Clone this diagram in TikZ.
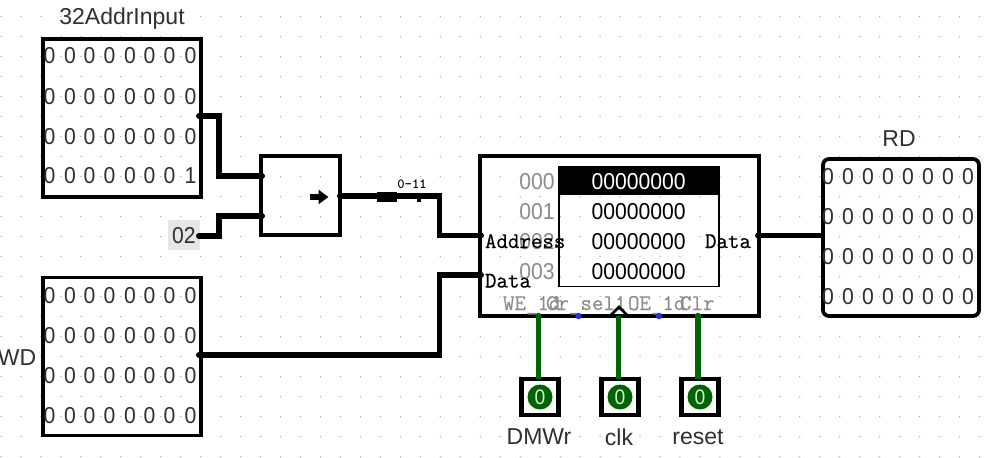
\documentclass[tikz,border=0pt]{standalone}
\usepackage{fontspec}
\usetikzlibrary{arrows.meta}
\setmainfont{Liberation Sans}
\newfontfamily\narrowdig[FakeStretch=0.92]{Liberation Sans}
\newfontfamily\portfont[FakeBold=0.35]{Latin Modern Mono}
\definecolor{pingreen}{HTML}{006400}
\definecolor{portblue}{HTML}{2A2AF0}
\definecolor{griddot}{HTML}{B0B0B0}
\definecolor{lblgrey}{HTML}{8C8C8C}
\definecolor{constbg}{HTML}{E6E6E6}
\definecolor{digitcol}{HTML}{303030}
\tikzset{
  box/.style={draw=black,line width=3.8pt,inner sep=0pt,outer sep=0pt},
  bit/.style={inner sep=0pt,outer sep=0pt,text=digitcol,font=\narrowdig\fontsize{23}{23}\selectfont},
  cell/.style={inner sep=0pt,outer sep=0pt,font=\narrowdig\fontsize{23}{23}\selectfont},
  addrlbl/.style={inner sep=0pt,outer sep=0pt,text=lblgrey,font=\narrowdig\fontsize{23}{23}\selectfont},
  portlbl/.style={inner sep=0pt,outer sep=0pt,anchor=base west,font=\portfont\fontsize{22.3}{22}\selectfont},
  ctllbl/.style={portlbl,text=lblgrey},
  title/.style={inner sep=0pt,outer sep=0pt,text=digitcol,font=\fontsize{23}{23}\selectfont},
  wire/.style={draw=black,line width=5.2pt,line join=miter},
  gwire/.style={draw=pingreen,line width=5.2pt},
  pinbox/.style={draw=black,line width=4.6pt,minimum width=37pt,minimum height=36pt,inner sep=0pt,outer sep=0pt}
}
\begin{document}
\begin{tikzpicture}[x=1pt,y=-1pt]
\useasboundingbox (0,0) rectangle (991,458);
\fill[white] (0,0) rectangle (991,458);
% grid
\foreach \i in {0,...,49}{\foreach \j in {0,...,22}{
  \fill[griddot] ({1+19.97*\i},{16.6+20*\j}) circle (0.75);
}}
% constant background
\node[fill=constbg,minimum width=32pt,minimum height=30pt,inner sep=0pt,outer sep=0pt] (cbg) at (184,235) {};
% input and output pins
\node[box,minimum width=158pt,minimum height=158pt] (addr) at (122,118) {};
\node[box,minimum width=158pt,minimum height=158pt] (wd) at (122,356.5) {};
\node[box,rounded corners=6pt,minimum width=156pt,minimum height=157pt] (rd) at (901,237.5) {};
\foreach \r/\y in {1/55.7,2/96.5,3/136.5,4/176}{
  \foreach \c/\x in {1/49.5,2/70,3/89.5,4/109.5,5/130,6/149.5,7/169.5,8/190.5}{
    \ifnum\r\c=48 \node[bit] (a\r\c) at (\x,\y) {1};\else\node[bit] (a\r\c) at (\x,\y) {0};\fi
  }
}
\foreach \r/\y in {1/296,2/336,3/376,4/415.7}{
  \foreach \c/\x in {1/49.5,2/70,3/89.5,4/109.5,5/130,6/149.5,7/169.5,8/190.5}{
    \node[bit] (w\r\c) at (\x,\y) {0};
  }
}
\foreach \r/\y in {1/176.7,2/216.7,3/256.7,4/296.7}{
  \foreach \c/\x in {1/828,2/848,3/868,4/888,5/908,6/928,7/948,8/968}{
    \node[bit] (r\r\c) at (\x,\y) {0};
  }
}
\node[title] (addrtitle) at (122,19) {32AddrInput};
\node[title] (wdtitle) at (17,358) {WD};
\node[title] (rdtitle) at (899,138.5) {RD};
\node[bit] (const) at (184,236) {02};
% splitter
\node[draw=black,line width=3.6pt,minimum width=79pt,minimum height=79pt,inner sep=0pt,outer sep=0pt] (split) at (300.5,195.5) {};
\coordinate (splitarrowa) at (309.5,197);
\coordinate (splitarrowb) at (328.5,197);
\draw[-{Triangle[length=10pt,width=14pt]},line width=5.6pt] (splitarrowa) -- (splitarrowb);
% memory
\node[box,minimum width=279pt,minimum height=160pt] (mem) at (619.5,236) {};
\node[draw=black,line width=1.4pt,minimum width=160pt,minimum height=120pt,inner sep=0pt,outer sep=0pt] (table) at (639,226.7) {};
\node[fill=black,minimum width=160pt,minimum height=28.5pt,inner sep=0pt,outer sep=0pt] (hdr) at (639,181) {};
\node[cell,text=white] (c0) at (638.7,181.7) {00000000};
\node[cell] (c1) at (638.7,211.7) {00000000};
\node[cell] (c2) at (638.7,241.5) {00000000};
\node[cell] (c3) at (638.7,271.7) {00000000};
\node[addrlbl] (l0) at (537,182) {000};
\node[addrlbl] (l1) at (537,212) {001};
\node[addrlbl] (l2) at (537,241.5) {002};
\node[addrlbl] (l3) at (537,272) {003};
\node[portlbl] (paddr) at (485,248) {Address};
\node[portlbl] (pdata) at (485,287.5) {Data};
\node[portlbl] (pout) at (705,248) {Data};
\node[ctllbl] (pwe) at (503,310) {WE\_1d};
\node[ctllbl] (psel) at (546,310) {Cr\_sel1};
\node[ctllbl] (poe) at (628,310) {OE\_1d};
\node[ctllbl] (pclr) at (680,310) {Clr};
% port coordinates
\coordinate (aout) at (199,116);
\coordinate (aturn1) at (219,116);
\coordinate (aturn2) at (219,176);
\coordinate (spin1) at (262,176);
\coordinate (cout) at (199,236);
\coordinate (cturn1) at (219,236);
\coordinate (cturn2) at (219,216);
\coordinate (spin2) at (262,216);
\coordinate (sout) at (340,196);
\coordinate (bturn1) at (439.5,196);
\coordinate (bturn2) at (439.5,235.5);
\coordinate (maddr) at (481,235.5);
\coordinate (wout) at (199,355);
\coordinate (wturn1) at (439.5,355);
\coordinate (wturn2) at (439.5,275);
\coordinate (mdata) at (481,275);
\coordinate (mout) at (758,235.5);
\coordinate (rin) at (822,235.5);
\coordinate (weport) at (538.5,316);
\coordinate (clkport) at (618.5,316);
\coordinate (clrport) at (698,316);
% wires
\draw[wire] (aout) -- (aturn1) -- (aturn2) -- (spin1);
\draw[wire] (cout) -- (cturn1) -- (cturn2) -- (spin2);
\draw[wire] (sout) -- (bturn1) -- (bturn2) -- (maddr);
\draw[wire] (wout) -- (wturn1) -- (wturn2) -- (mdata);
\draw[wire] (mout) -- (rin);
\node[fill=black,minimum width=20pt,minimum height=10pt,inner sep=0pt,outer sep=0pt] (tunnel) at (387,197) {};
\node[inner sep=0pt,outer sep=0pt,font=\ttfamily\bfseries\fontsize{14}{14}\selectfont] (range) at (412,184) {0-11};
\coordinate (tick) at (419,196);
\fill (tick) ++(-2,-3) rectangle ++(4,9);
\foreach \p in {aout,cout,wout,spin1,spin2,sout,maddr,mdata,mout}{\fill (\p) circle (3);}
% control pins
\node[pinbox] (dmwr) at (540,397) {};
\node[pinbox] (clk) at (620,397) {};
\node[pinbox] (reset) at (700,397) {};
\draw[gwire] (weport) -- (weport |- dmwr.north);
\draw[gwire] (clkport) -- (clkport |- clk.north);
\draw[gwire] (clrport) -- (clrport |- reset.north);
\foreach \n in {dmwr,clk,reset}{
  \fill[pingreen] (\n) circle (12.5);
  \node[inner sep=0pt,text=white!85!pingreen,font=\narrowdig\fontsize{21}{21}\selectfont] (\n v) at (\n) {0};
}
\foreach \p in {weport,clrport}{\fill[pingreen] (\p) circle (3.2);}
\coordinate (bluea) at (578.5,316);
\coordinate (blueb) at (659,316);
\fill[portblue] (bluea) circle (3.2);
\fill[portblue] (blueb) circle (3.2);
\coordinate (clka) at (611,315);
\coordinate (clkb) at (619,307);
\coordinate (clkc) at (627,315);
\draw[line width=2.6pt,line join=miter] (clka) -- (clkb) -- (clkc);
\node[title] (dmwrl) at (539,437) {DMWr};
\node[title] (clkl) at (619,437) {clk};
\node[title] (resetl) at (698,437) {reset};
\end{tikzpicture}
\end{document}
